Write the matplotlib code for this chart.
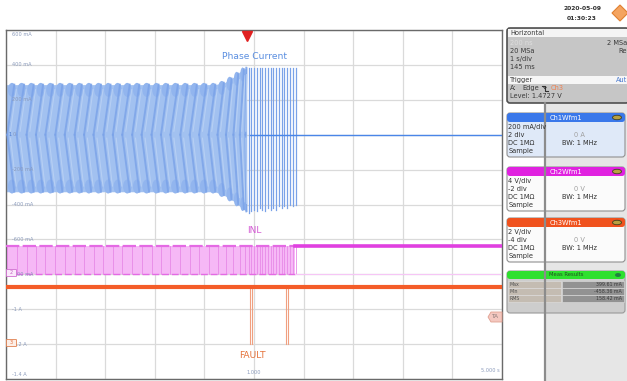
import numpy as np
import matplotlib
matplotlib.use('Agg')
import matplotlib.pyplot as plt
from matplotlib.patches import FancyBboxPatch, Rectangle, Polygon, Ellipse

W, H = 627, 381

# ---------------- data ----------------
t_left, t_right = -4.855, 5.145          # screen time span (s), trigger at t = 0
x_div = [-4.855, -3.855, -2.855, -1.855, -0.855, 0.145, 1.145, 2.145, 3.145, 4.145, 5.145]

# Ch1 (phase current) envelope, A
env_t = [-4.855, -0.64, -0.44, -0.24, -0.10, 0.0]
env_hi = [0.287, 0.287, 0.300, 0.335, 0.370, 0.384]
env_lo = [-0.327, -0.327, -0.350, -0.385, -0.420, -0.440]
# start times of the visible current cycles (s)
cycle_t = [-4.83, -4.64, -4.44, -4.25, -4.06, -3.86, -3.67, -3.47, -3.28, -3.09,
           -2.89, -2.70, -2.51, -2.31, -2.12, -1.92, -1.73, -1.54, -1.34, -1.15,
           -0.96, -0.77, -0.59, -0.42, -0.27, -0.14, -0.03]
# decaying spikes after the fault (s, A)
spike_t = [0.044, 0.094, 0.145, 0.205, 0.256, 0.306, 0.367, 0.427, 0.478, 0.528,
           0.589, 0.649, 0.700, 0.750, 0.811, 0.871, 0.932, 0.982]
spike_hi = [0.384, 0.384, 0.38, 0.38, 0.38, 0.38, 0.38, 0.38, 0.38, 0.38,
            0.38, 0.38, 0.38, 0.38, 0.38, 0.38, 0.38, 0.38]
spike_lo = [-0.45, -0.44, -0.43, -0.44, -0.42, -0.43, -0.44, -0.42, -0.43, -0.42,
            -0.43, -0.41, -0.42, -0.41, -0.42, -0.40, -0.41, -0.40]
i_off_t = [0.06, 5.145]
i_off = [0.0, 0.0]

# Ch2 (INL), V
inl_hi, inl_lo = 3.3, 0.0
inl_stop = 0.98
# Ch3 (FAULT), V
fault_hi, fault_lo = 3.3, 0.0
fault_pulse_t = [0.07, 0.11, 0.80, 0.84]

ch1_labels = ["600 mA", "400 mA", "200 mA", "0", "-200 mA", "-400 mA",
              "-600 mA", "-800 mA", "-1 A", "-1.2 A", "-1.4 A"]

# channel scalings -> divisions
def ch1(v): return np.asarray(v) / 0.2 + 2
def ch2(v): return np.asarray(v) / 4.0 - 2
def ch3(v): return np.asarray(v) / 2.0 - 4

BLUE = '#4a86e8'
BLUE_FILL = '#a2c1f0'
BLUE_STROKE = '#7aa2e8'
MAG = '#e040e0'
MAG_FILL = '#f6b8f6'
ORG = '#f45c28'
ORG_THIN = '#f0a080'

fig = plt.figure(figsize=(W / 100, H / 100), dpi=100)
ax = fig.add_axes([6 / W, (H - 379) / H, 496 / W, 349 / H])
ax.set_xlim(t_left, t_right)
ax.set_ylim(-5, 5)
ax.set_xticks(x_div)
ax.set_yticks(range(-5, 6))
ax.tick_params(length=0, labelbottom=False, labelleft=False)
ax.grid(True, color='#dadada', lw=0.9)
ax.set_axisbelow(True)
for s in ax.spines.values():
    s.set_color('#6a6a6a')
    s.set_linewidth(1.0)

# ---- Ch1 phase current ----
ax.fill_between(env_t, ch1(env_lo), ch1(env_hi), color=BLUE_FILL, lw=0, zorder=2)
for i, t0 in enumerate(cycle_t):
    t1 = cycle_t[i + 1] if i + 1 < len(cycle_t) else 0.0
    p = t1 - t0
    hi = np.interp(t0 + 0.7 * p, env_t, env_hi)
    lo = np.interp(t0 + 0.7 * p, env_t, env_lo)
    ax.add_patch(Ellipse((t0 + 0.5 * p, ch1(hi) - 0.15), p * 0.85, 0.4,
                         color='#92b5ee', lw=0, zorder=2.5))
    ax.add_patch(Ellipse((t0 + 0.5 * p, ch1(lo) + 0.15), p * 0.85, 0.4,
                         color='#92b5ee', lw=0, zorder=2.5))
    ax.plot([t0, t0 + 0.75 * p], ch1([0.0, hi]), color=BLUE_STROKE, lw=1.4, alpha=0.8, zorder=3)
    ax.plot([t0, t0 + 0.75 * p], ch1([0.0, lo]), color=BLUE_STROKE, lw=1.4, alpha=0.8, zorder=3)
    ax.plot([t0 + 0.35 * p, t0 + 0.95 * p], ch1([0.02, hi * 0.9]), color='#bcd3f5', lw=0.8,
            alpha=0.8, zorder=3)
    ax.plot([t0 + 0.35 * p, t0 + 0.95 * p], ch1([-0.02, lo * 0.9]), color='#bcd3f5', lw=0.8,
            alpha=0.8, zorder=3)
for t, h, l in zip(spike_t, spike_hi, spike_lo):
    ax.plot([t, t], ch1([l, h]), color=BLUE_STROKE, lw=0.9, zorder=3)
ax.plot(i_off_t, ch1(i_off), color=BLUE, lw=1.0, zorder=4)

# ---- Ch2 INL ----
ax.fill_between([t_left, inl_stop], ch2(inl_lo), ch2(inl_hi), color=MAG_FILL, lw=0, zorder=2)
for t in cycle_t + spike_t:
    ax.plot([t, t], ch2([inl_lo, inl_hi]), color='#e78ae7', lw=0.6, zorder=3)
ax.plot([t_left, inl_stop], ch2([inl_hi, inl_hi]), color='#e46ae4', lw=1.6, zorder=3,
        dashes=(6, 1.5))
ax.plot([t_left, inl_stop], ch2([inl_lo, inl_lo]), color='#e46ae4', lw=1.0, zorder=3,
        dashes=(5, 2))
ax.plot([inl_stop, t_right], ch2([inl_hi, inl_hi]), color=MAG, lw=2.6, zorder=4)
ax.plot([inl_stop, t_right], ch2([inl_lo, inl_lo]), color='#f6c6f6', lw=0.8, zorder=3)

# ---- Ch3 FAULT ----
for t in fault_pulse_t:
    ax.plot([t, t], ch3([fault_lo, fault_hi]), color=ORG_THIN, lw=0.8, zorder=3)
ax.plot([t_left, t_right], ch3([fault_hi, fault_hi]), color=ORG, lw=3.0, zorder=4)

# trigger marker
ax.plot([0.0], [4.82], marker='v', color='#e02020', ms=7, zorder=6, clip_on=False)

# waveform captions
ax.text(0.15, ch1(0.45), "Phase Current", color='#5a8ee0', fontsize=6.6,
        ha='center', va='center', zorder=6)
ax.text(0.15, ch2(3.3) + 0.42, "INL", color='#d45ad4', fontsize=6.6, ha='center',
        va='center', zorder=6)
ax.text(0.12, -4.32, "FAULT", color='#e5723a', fontsize=6.6, ha='center',
        va='center', zorder=6)

# channel 1 axis labels
for k, lab in enumerate(ch1_labels):
    yv = 5 - k
    yy = yv - 0.12 if k == 0 else (yv + 0.12 if k == 10 else yv)
    ax.text(t_left + 0.13, yy, lab, color='#8a9abb', fontsize=3.6,
            ha='left', va='center', zorder=7)
ax.text(0.15, -4.8, "1.000", color='#8a9abb', fontsize=3.6, ha='center', va='center', zorder=7)
ax.text(t_right - 0.05, -4.75, "5.000 s", color='#8a9abb', fontsize=3.6, ha='right',
        va='center', zorder=7)

# ---------------- overlay (pixel coordinates) ----------------
ov = fig.add_axes([0, 0, 1, 1], zorder=10)
ov.set_xlim(0, W)
ov.set_ylim(H, 0)
ov.axis('off')

# channel markers on left
ov.add_patch(FancyBboxPatch((7, 270), 9, 6, boxstyle='round,pad=0.5', fc='#fbe8fb',
                            ec='#d070d0', lw=0.6))
ov.text(11.5, 273, "2", fontsize=3.5, color='#c060c0', ha='center', va='center')
ov.add_patch(FancyBboxPatch((7, 340), 9, 6, boxstyle='round,pad=0.5', fc='#fdeee6',
                            ec='#e08050', lw=0.6))
ov.text(11.5, 343, "3", fontsize=3.5, color='#e07040', ha='center', va='center')
ov.text(8, 135, "1", fontsize=3.5, color='#4a7ad0', ha='left', va='center')

# TA marker
ov.add_patch(Polygon([[488, 317], [491, 312], [502, 312], [502, 322], [491, 322]],
                     closed=True, fc='#f4c8c0', ec='#e0a090', lw=0.6))
ov.text(495, 317, "TA", fontsize=4.2, color='#8a7a78', ha='center', va='center')

# right panel background
ov.add_patch(Rectangle((545, 103), 82, 278, fc='#e6e6e6', ec='none'))
ov.plot([545, 545], [103, 381], color='#8c8c8c', lw=1.6)

# date and logo
ov.text(582, 9, "2020-05-09", fontsize=4.3, color='#303030', ha='center', va='center',
        weight='bold')
ov.text(582, 18, "01:30:23", fontsize=4.3, color='#303030', ha='center', va='center',
        weight='bold')
ov.add_patch(Polygon([[620, 5], [628, 13], [620, 21], [612, 13]], closed=True,
                     fc='#f4a460', ec='#e08030', lw=0.8))

# Horizontal box
ov.add_patch(FancyBboxPatch((507, 28), 122, 75, boxstyle='round,pad=0,rounding_size=3',
                            fc='#c6c6c6', ec='#505050', lw=1.2))
ov.add_patch(Rectangle((508, 29), 120, 8, fc='#f4f4f4', ec='none'))
ov.add_patch(Rectangle((508, 76), 120, 8, fc='#f6f6f6', ec='none'))
T = dict(fontsize=4.8, color='#3a3a3a', va='center')
ov.text(510, 33, "Horizontal", **T)
ov.text(510, 43, "200 ns", fontsize=4.8, color='#dedede', va='center')
ov.text(627, 43, "2 MSa", ha='right', **T)
ov.text(510, 51, "20 MSa", **T)
ov.text(627, 51, "Re", ha='right', **T)
ov.text(510, 59, "1 s/div", **T)
ov.text(510, 67, "145 ms", **T)
ov.text(510, 80, "Trigger", **T)
ov.text(627, 80, "Aut", ha='right', fontsize=4.8, color='#4a7ad0', va='center')
ov.text(510, 88, "A:", **T)
ov.text(522, 88, "Edge", **T)
# falling-edge symbol
ov.plot([542, 545, 545, 548], [85.5, 85.5, 90.5, 90.5], color='#303030', lw=0.8)
ov.plot([543.8, 545, 546.2], [87.3, 88.8, 87.3], color='#303030', lw=0.6)
ov.text(551, 88, "Ch3", fontsize=4.8, color='#f08050', va='center')
ov.text(510, 96, "Level: 1.4727 V", **T)


def ch_box(y0, head, body, title, lines):
    ov.add_patch(FancyBboxPatch((507, y0), 118, 44, boxstyle='round,pad=0,rounding_size=3',
                                fc=body, ec='#909090', lw=0.8))
    ov.add_patch(FancyBboxPatch((507, y0), 118, 9, boxstyle='round,pad=0,rounding_size=3',
                                fc=head, ec='none'))
    ov.text(566, y0 + 4.6, title, fontsize=4.8, color='white', ha='center', va='center')
    ov.add_patch(Ellipse((617, y0 + 4.5), 9, 4.5, fc='#b8a040', ec='#404020', lw=0.6))
    for k, (a, b) in enumerate(lines):
        yy = y0 + 14 + 8 * k
        ov.text(508.5, yy, a, fontsize=4.8, color='#303030', va='center')
        if b:
            col = '#a0a0a0' if b.startswith('0') else '#303030'
            ov.text(562 if b.startswith('BW') else 574, yy, b, fontsize=4.8, color=col,
                    va='center')


ch_box(113, '#3a78ea', '#dfe9f8', "Ch1Wfm1",
       [("200 mA/div", ""), ("2 div", "0 A"), ("DC 1M\u03a9", "BW: 1 MHz"), ("Sample", "")])
ch_box(167, '#e022e0', '#fbfbfb', "Ch2Wfm1",
       [("4 V/div", ""), ("-2 div", "0 V"), ("DC 1M\u03a9", "BW: 1 MHz"), ("Sample", "")])
ch_box(218, '#f0521e', '#fbfbfb', "Ch3Wfm1",
       [("2 V/div", ""), ("-4 div", "0 V"), ("DC 1M\u03a9", "BW: 1 MHz"), ("Sample", "")])

# Meas results
ov.add_patch(FancyBboxPatch((507, 271), 118, 42, boxstyle='round,pad=0,rounding_size=3',
                            fc='#cdcdcd', ec='#9a9a9a', lw=0.8))
ov.add_patch(FancyBboxPatch((507, 271), 118, 8, boxstyle='round,pad=0,rounding_size=3',
                            fc='#2ee02e', ec='none'))
ov.text(566, 275, "Meas Results", fontsize=3.8, color='#205020', ha='center', va='center')
ov.add_patch(Ellipse((618, 275), 6, 4, fc='#208040', ec='none'))
meas = [("Max", "399.61 mA"), ("Min", "-458.36 mA"), ("RMS", "158.42 mA")]
for k, (a, b) in enumerate(meas):
    yy = 281 + 7 * k
    ov.add_patch(Rectangle((508, yy), 53, 6.5, fc='#c4bcb2', ec='#e0e0e0', lw=0.4))
    ov.add_patch(Rectangle((562, yy), 62, 6.5, fc='#929292', ec='#e0e0e0', lw=0.4))
    ov.text(510, yy + 3.3, a, fontsize=3.4, color='#505050', va='center')
    ov.text(622, yy + 3.3, b, fontsize=3.4, color='#3a3a3a', va='center', ha='right')

fig.savefig('out.png', dpi=100)
